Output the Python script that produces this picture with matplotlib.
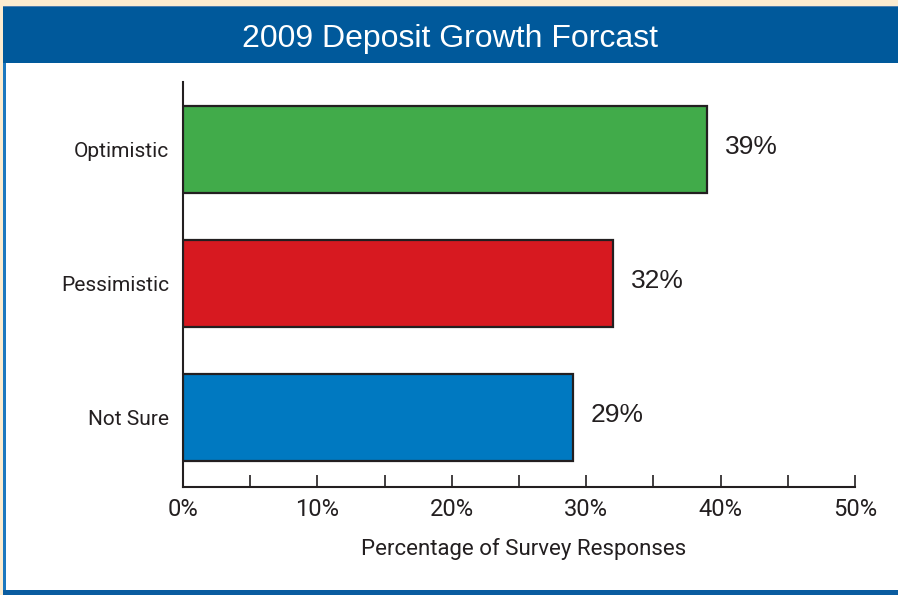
import numpy as np
import matplotlib.pyplot as plt
from matplotlib.patches import Rectangle

categories = ['Not Sure', 'Pessimistic', 'Optimistic']
values = [29, 32, 39]
bar_colors = ['#0079c1', '#d71920', '#41ab4a']
xticks = np.arange(0, 51, 5)
xtick_labels = ['0%', '', '10%', '', '20%', '', '30%', '', '40%', '', '50%']

narrow = ['Roboto', 'DejaVu Sans']
plain = ['Liberation Sans', 'DejaVu Sans']

W, H = 898, 595
fig = plt.figure(figsize=(W / 100, H / 100), dpi=100)
fig.patch.set_facecolor('white')

# frame: cream page edge, blue title band, thin blue borders
def px_rect(x0, y0, x1, y1, color):
    fig.patches.append(Rectangle((x0 / W, 1 - y1 / H), (x1 - x0) / W, (y1 - y0) / H,
                                 transform=fig.transFigure, facecolor=color,
                                 edgecolor='none', zorder=0))

px_rect(0, 0, W, 6, '#fcecd0')
px_rect(0, 0, 3, H, '#fcecd0')
px_rect(3, 6, W, 63, '#00599b')
px_rect(3, 6, W, 7, '#4f7fae')
px_rect(3, 63, 5.5, 591, '#1c78bf')
px_rect(3, 590, W, H, '#0a5ca0')

fig.text(450 / W, 1 - 39 / H, '2009 Deposit Growth Forcast', color='white',
         fontsize=23, family=plain, ha='center', va='center')

ax = fig.add_axes([183 / W, 1 - 487 / H, (855 - 183) / W, (487 - 82) / H])
y = np.arange(len(categories))
ax.barh(y, values, height=0.65, color=bar_colors, edgecolor='#231f20', linewidth=1.6, zorder=3)

for yi, v in zip(y, values):
    ax.text(v + 1.3, yi + 0.02, f'{v}%', fontsize=19, family=plain, color='#231f20',
            va='center', ha='left')

ax.set_xlim(0, 50)
ax.set_ylim(-0.519, 2.504)
ax.set_yticks(y)
ax.set_yticklabels(categories, fontsize=15, family=narrow, color='#231f20')
ax.set_xticks(xticks)
ax.set_xticklabels(xtick_labels, fontsize=17, family=narrow, color='#231f20')
ax.tick_params(axis='x', direction='in', length=9, width=1.2, color='#231f20', pad=8)
ax.tick_params(axis='y', length=0, pad=10)
for s in ['top', 'right']:
    ax.spines[s].set_visible(False)
for s in ['left', 'bottom']:
    ax.spines[s].set_linewidth(1.5)
    ax.spines[s].set_color('#231f20')
ax.set_xlabel('Percentage of Survey Responses', fontsize=16, family=narrow,
              color='#231f20')
ax.xaxis.set_label_coords(0.507, -0.127)
ax.set_facecolor('none')

fig.savefig('out.png', dpi=100)
